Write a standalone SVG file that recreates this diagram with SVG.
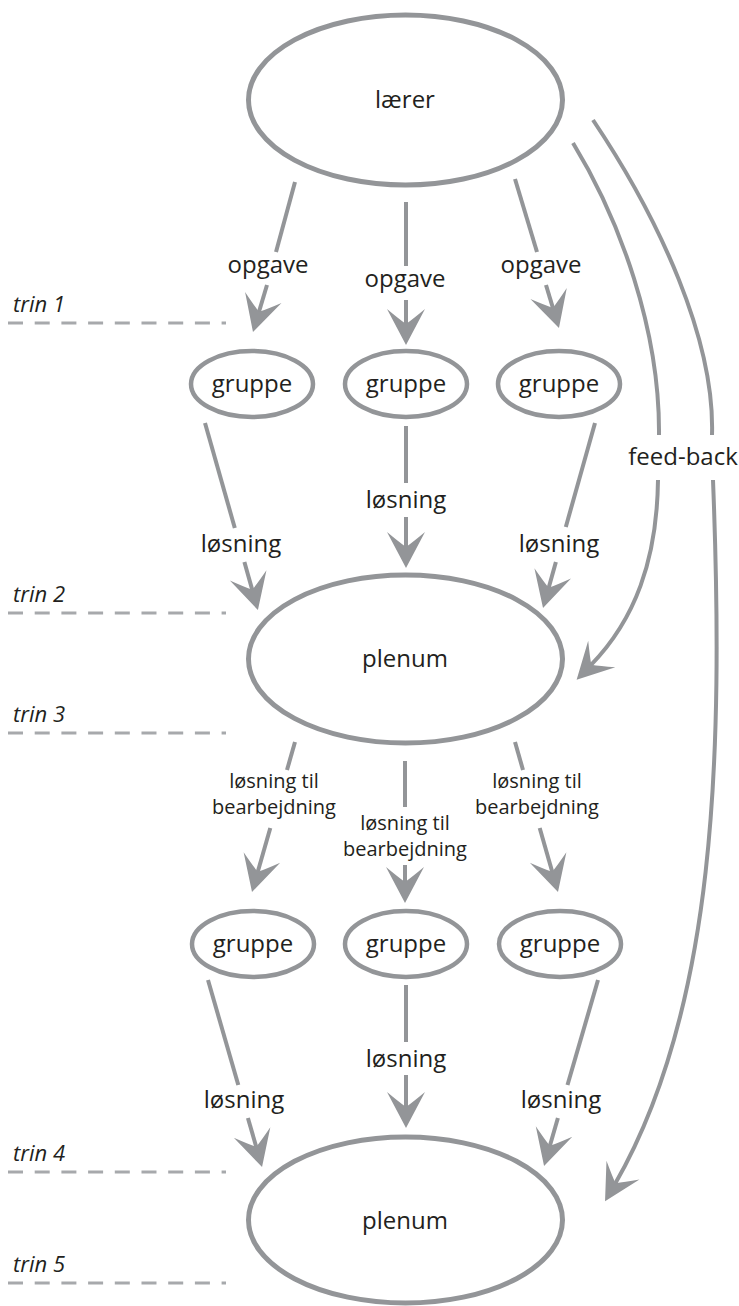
<svg xmlns="http://www.w3.org/2000/svg" width="739" height="1306" viewBox="0 0 739 1306">
<style>
.node{fill:#fff;stroke:#939598;stroke-width:5}
.grp{fill:#fff;stroke:#939598;stroke-width:4.5}
.ln{fill:none;stroke:#939598;stroke-width:4}
.dash{fill:none;stroke:#a7a9ac;stroke-width:2.8;stroke-dasharray:15 11.7}
.t{font-family:"Open Sans","Noto Sans",sans-serif;font-size:24px;fill:#231f20;text-anchor:middle}
.s{font-family:"Open Sans","Noto Sans",sans-serif;font-size:20px;fill:#231f20;text-anchor:middle}
.trin{font-family:"Open Sans","Noto Sans",sans-serif;font-size:22px;font-style:italic;fill:#231f20}
</style>
<defs>
<marker id="ah" viewBox="0 0 40 40" markerUnits="userSpaceOnUse" markerWidth="40" markerHeight="40" refX="18" refY="20" orient="auto">
<path d="M38,20 L2,1 Q12,13 17,20 Q12,27 2,39 Z" fill="#939598"/>
</marker>
</defs>

<g id="trin-lines">
<line class="dash" x1="8" y1="323" x2="226" y2="323"/>
<line class="dash" x1="8" y1="613" x2="226" y2="613"/>
<line class="dash" x1="8" y1="733" x2="226" y2="733"/>
<line class="dash" x1="8" y1="1172" x2="226" y2="1172"/>
<line class="dash" x1="8" y1="1283" x2="226" y2="1283"/>
<text class="trin" x="13" y="312">trin 1</text>
<text class="trin" x="13" y="602">trin 2</text>
<text class="trin" x="13" y="722">trin 3</text>
<text class="trin" x="13" y="1161">trin 4</text>
<text class="trin" x="13" y="1272">trin 5</text>
</g>

<g id="connectors">
<!-- lærer to gruppe -->
<line class="ln" x1="295" y1="182" x2="276" y2="252"/>
<line class="ln" x1="267" y1="285" x2="258.7" y2="312.8" marker-end="url(#ah)"/>
<line class="ln" x1="406" y1="202" x2="406" y2="266"/>
<line class="ln" x1="406" y1="300" x2="406" y2="325" marker-end="url(#ah)"/>
<line class="ln" x1="515" y1="179" x2="537" y2="252"/>
<line class="ln" x1="546" y1="285" x2="553.2" y2="308.9" marker-end="url(#ah)"/>
<text class="t" x="268" y="273">opgave</text>
<text class="t" x="405" y="287">opgave</text>
<text class="t" x="541" y="273">opgave</text>

<!-- gruppe row1 to plenum -->
<line class="ln" x1="205" y1="423" x2="234.8" y2="528"/>
<line class="ln" x1="244.4" y1="562" x2="252.5" y2="590.8" marker-end="url(#ah)"/>
<line class="ln" x1="406" y1="426" x2="406" y2="483"/>
<line class="ln" x1="406" y1="517" x2="406" y2="548" marker-end="url(#ah)"/>
<line class="ln" x1="595" y1="423" x2="565.8" y2="527"/>
<line class="ln" x1="555.9" y1="562" x2="548.4" y2="588.8" marker-end="url(#ah)"/>
<text class="t" x="241" y="552">løsning</text>
<text class="t" x="406" y="508">løsning</text>
<text class="t" x="559" y="552">løsning</text>

<!-- feed-back -->
<path class="ln" d="M573,143 C620,220 660,330 659,435"/>
<path class="ln" d="M658,480 C657,560 635,620 590.6,665.4" marker-end="url(#ah)"/>
<path class="ln" d="M593,120 C660,220 715,340 712,435"/>
<path class="ln" d="M713,480 C724,760 715,1010 615,1184" marker-end="url(#ah)"/>
<text class="t" x="683" y="465">feed-back</text>

<!-- plenum to gruppe row2 -->
<line class="ln" x1="295" y1="742" x2="287" y2="770"/>
<line class="ln" x1="270.3" y1="828" x2="257.5" y2="872.8" marker-end="url(#ah)"/>
<line class="ln" x1="405" y1="761" x2="405" y2="807"/>
<line class="ln" x1="405" y1="865" x2="405" y2="883" marker-end="url(#ah)"/>
<line class="ln" x1="515" y1="742" x2="523" y2="770"/>
<line class="ln" x1="539.7" y1="828" x2="552.5" y2="872.8" marker-end="url(#ah)"/>
<text class="s" x="274" y="788">løsning til</text>
<text class="s" x="274" y="814">bearbejdning</text>
<text class="s" x="405" y="830">løsning til</text>
<text class="s" x="405" y="856">bearbejdning</text>
<text class="s" x="537" y="788">løsning til</text>
<text class="s" x="537" y="814">bearbejdning</text>

<!-- gruppe row2 to plenum -->
<line class="ln" x1="208" y1="980" x2="238.3" y2="1085"/>
<line class="ln" x1="247.9" y1="1118" x2="256.5" y2="1147.8" marker-end="url(#ah)"/>
<line class="ln" x1="406" y1="985" x2="406" y2="1042"/>
<line class="ln" x1="406" y1="1075" x2="406" y2="1108" marker-end="url(#ah)"/>
<line class="ln" x1="598" y1="980" x2="567.5" y2="1085"/>
<line class="ln" x1="557.9" y1="1118" x2="549.6" y2="1146.8" marker-end="url(#ah)"/>
<text class="t" x="244" y="1108">løsning</text>
<text class="t" x="406" y="1067">løsning</text>
<text class="t" x="561" y="1108">løsning</text>
</g>

<g id="laerer">
<ellipse class="node" cx="405.5" cy="100" rx="157" ry="85"/>
<text class="t" x="405" y="108">lærer</text>
</g>
<g id="gruppe1">
<ellipse class="grp" cx="252" cy="384" rx="61" ry="33"/>
<text class="t" x="252" y="392">gruppe</text>
</g>
<g id="gruppe2">
<ellipse class="grp" cx="406" cy="384" rx="61" ry="33"/>
<text class="t" x="406" y="392">gruppe</text>
</g>
<g id="gruppe3">
<ellipse class="grp" cx="559" cy="384" rx="61" ry="33"/>
<text class="t" x="559" y="392">gruppe</text>
</g>
<g id="plenum1">
<ellipse class="node" cx="405.5" cy="659" rx="157" ry="84"/>
<text class="t" x="405" y="667">plenum</text>
</g>
<g id="gruppe4">
<ellipse class="grp" cx="253" cy="944" rx="61" ry="33"/>
<text class="t" x="253" y="952">gruppe</text>
</g>
<g id="gruppe5">
<ellipse class="grp" cx="406" cy="944" rx="61" ry="33"/>
<text class="t" x="406" y="952">gruppe</text>
</g>
<g id="gruppe6">
<ellipse class="grp" cx="560" cy="944" rx="61" ry="33"/>
<text class="t" x="560" y="952">gruppe</text>
</g>
<g id="plenum2">
<ellipse class="node" cx="405.5" cy="1220" rx="157" ry="83"/>
<text class="t" x="405" y="1229">plenum</text>
</g>
</svg>
